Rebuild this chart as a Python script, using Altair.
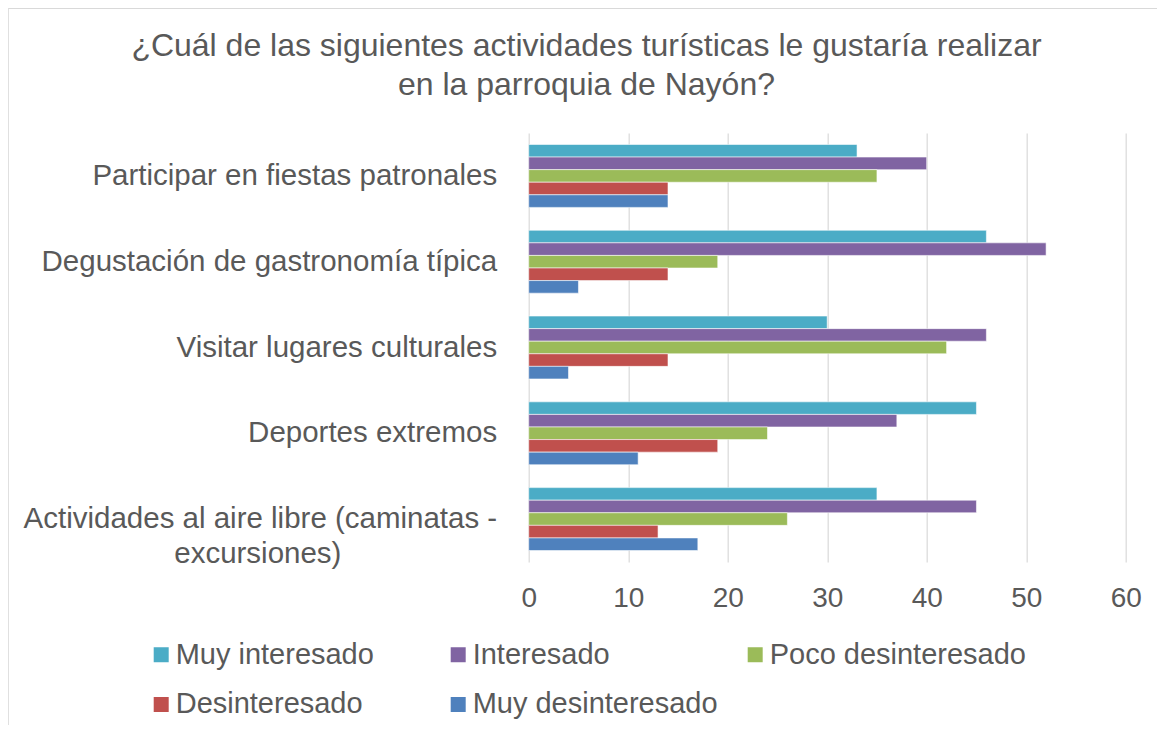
import altair as alt
import pandas as pd

categories = [
    "Participar en fiestas patronales",
    "Degustación de gastronomía típica",
    "Visitar lugares culturales",
    "Deportes extremos",
    "Actividades al aire libre (caminatas - excursiones)",
]
series = ["Muy interesado", "Interesado", "Poco desinteresado", "Desinteresado", "Muy desinteresado"]
muy_interesado = [33, 46, 30, 45, 35]
interesado = [40, 52, 46, 37, 45]
poco_desinteresado = [35, 19, 42, 24, 26]
desinteresado = [14, 14, 14, 19, 13]
muy_desinteresado = [14, 5, 4, 11, 17]
colors = ["#4BACC6", "#8064A2", "#9BBB59", "#C0504D", "#4F81BD"]
x_ticks = [0, 10, 20, 30, 40, 50, 60]
title_lines = ["¿Cuál de las siguientes actividades turísticas le gustaría realizar",
               "en la parroquia de Nayón?"]

values_by_series = [muy_interesado, interesado, poco_desinteresado, desinteresado, muy_desinteresado]
rows = []
for s, vals in zip(series, values_by_series):
    for c, v in zip(categories, vals):
        rows.append({"Actividad": c, "Serie": s, "Valor": v})
df = pd.DataFrame(rows)

FONT = "Liberation Sans"
TXT = "#595959"
PAD = "\u2007" * 9 + "\u00a0" + "\u2060"

label_expr = (
    "datum.value == 'Actividades al aire libre (caminatas - excursiones)' ? "
    "['Actividades al aire libre (caminatas -', 'excursiones)" + PAD + "'] : datum.value"
)

bars = alt.Chart(df).mark_bar(stroke="white", strokeWidth=0.8, strokeOpacity=0.7).encode(
    x=alt.X("Valor:Q",
            scale=alt.Scale(domain=[0, 60], nice=False),
            axis=alt.Axis(values=x_ticks, title=None, grid=True, gridColor="#D9D9D9",
                          gridWidth=1.2, domain=False, ticks=False, tickSize=0,
                          labelFont=FONT, labelFontSize=28, labelColor=TXT,
                          labelPadding=23, labelFlush=False)),
    y=alt.Y("Actividad:N", sort=categories,
            scale=alt.Scale(paddingInner=0.267, paddingOuter=0.134),
            axis=alt.Axis(title=None, domain=False, ticks=False, tickSize=0, grid=False,
                          labelFont=FONT, labelFontSize=29.5, labelColor=TXT,
                          labelPadding=32, labelLimit=600, labelLineHeight=35,
                          labelExpr=label_expr)),
    yOffset=alt.YOffset("Serie:N", sort=series,
                        scale=alt.Scale(paddingInner=0, paddingOuter=0)),
    color=alt.Color("Serie:N", sort=series,
                    scale=alt.Scale(domain=series, range=colors),
                    legend=alt.Legend(orient="none", legendX=-382, legendY=507,
                                      columns=3, direction="horizontal", title=None,
                                      symbolType="square", symbolSize=225,
                                      symbolStrokeWidth=0, labelFont=FONT,
                                      labelFontSize=29, labelColor=TXT,
                                      rowPadding=20, columnPadding=11,
                                      gridAlign="all", labelOffset=0, labelLimit=500)),
)

frame_data = alt.Data(values=[{"k": 1}])
frame_left = alt.Chart(frame_data).mark_rule(color="#D9D9D9", strokeWidth=1.2).encode(
    x=alt.value(-520.5), y=alt.value(-124.5), y2=alt.value(700))
frame_top = alt.Chart(frame_data).mark_rule(color="#D9D9D9", strokeWidth=1.2).encode(
    x=alt.value(-520.5), x2=alt.value(700), y=alt.value(-124.5))

chart = alt.layer(frame_left, frame_top, bars).properties(
    width=597,
    height=429,
    padding={"left": 520.7, "top": 125, "right": 31, "bottom": 163},
    autosize=alt.AutoSizeParams(type="none"),
    title=alt.TitleParams(text=title_lines, font=FONT, fontSize=32, fontWeight="normal",
                          color=TXT, lineHeight=39, anchor="middle", frame="group",
                          baseline="alphabetic", offset=0, dx=-240.7, dy=119.5),
).configure_view(stroke=None)

chart.save("out.html", embed_options={"renderer": "svg", "actions": False})
